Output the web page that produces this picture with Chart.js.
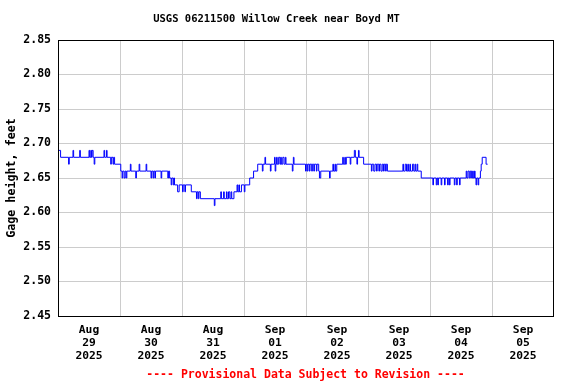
<!DOCTYPE html>
<html>
<head>
<meta charset="utf-8">
<script src="https://cdn.jsdelivr.net/npm/chart.js@4/dist/chart.umd.min.js"></script>
<style>
html,body{margin:0;padding:0;background:#fff;}
#wrap{width:576px;height:384px;}
</style>
</head>
<body>
<div id="wrap"><canvas id="c" width="576" height="384"></canvas></div>
<script>
// Hours since 2025-08-29 00:00 at which the gage height changed, and the new value (feet)
const hours = [0,1.0,4.1,4.35,5.8,6.05,8.4,8.65,12.0,12.25,12.7,12.95,13.2,13.6,14.0,14.25,17.8,18.05,18.75,19.0,20.4,20.65,21.3,21.55,21.9,
24.3,24.8,25.05,25.6,26.0,26.4,26.65,28.0,28.25,30.1,30.35,31.4,31.65,34.1,34.35,36.0,36.25,36.8,37.05,37.5,37.75,39.9,40.15,42.5,42.8,43.2,43.8,44.05,44.6,44.85,45.1,46.3,46.9,
48.2,48.45,49.1,49.35,51.6,53.6,53.85,54.3,54.55,55.1,60.5,60.75,63.0,63.25,64.1,64.35,65.2,65.45,66.0,66.5,67.0,67.25,68.1,69.3,69.55,70.0,70.25,71.0,
72.1,72.35,74.2,75.7,77.3,79.1,79.35,80.1,80.35,82.2,82.45,83.8,84.05,84.3,84.6,84.85,85.4,85.9,86.2,86.45,87.0,87.5,88.0,88.25,90.7,90.95,91.1,91.35,95.8,
96.05,96.5,96.75,97.3,97.55,98.2,98.45,99.0,99.25,100.0,100.25,100.9,101.2,101.7,105.1,105.35,106.4,106.65,107.2,107.45,107.9,110.2,110.45,111.0,111.25,111.6,113.1,113.35,114.7,115.1,115.7,115.95,116.3,116.55,118.3,
121.3,121.55,122.2,122.7,123.3,123.55,124.2,124.45,125.0,125.5,126.0,126.25,126.8,127.05,127.5,133.5,133.75,134.4,134.9,135.4,135.65,136.2,136.45,137.2,137.7,138.2,138.45,139.0,139.25,140.6,
145.1,145.35,146.4,146.65,147.0,147.25,148.3,148.55,149.6,149.85,150.8,151.05,151.5,151.75,153.4,153.65,154.3,154.55,155.4,155.65,158.0,158.25,158.7,159.2,159.6,160.1,160.5,160.75,161.2,161.45,161.8,162.05,162.6,162.85,163.5,163.8,164.2,165.7,166.3];
const feet = [2.69,2.68,2.67,2.68,2.69,2.68,2.69,2.68,2.69,2.68,2.69,2.68,2.69,2.68,2.67,2.68,2.69,2.68,2.69,2.68,2.67,2.68,2.67,2.68,2.67,
2.66,2.65,2.66,2.65,2.66,2.65,2.66,2.67,2.66,2.65,2.66,2.67,2.66,2.67,2.66,2.65,2.66,2.65,2.66,2.65,2.66,2.65,2.66,2.65,2.66,2.65,2.64,2.65,2.64,2.65,2.64,2.63,2.64,
2.63,2.64,2.63,2.64,2.63,2.62,2.63,2.62,2.63,2.62,2.61,2.62,2.63,2.62,2.63,2.62,2.63,2.62,2.63,2.62,2.63,2.62,2.63,2.64,2.63,2.64,2.63,2.64,
2.63,2.64,2.65,2.66,2.67,2.66,2.67,2.68,2.67,2.66,2.67,2.68,2.66,2.67,2.68,2.67,2.68,2.67,2.68,2.67,2.68,2.67,2.68,2.67,2.66,2.67,2.68,2.67,2.66,
2.67,2.66,2.67,2.66,2.67,2.66,2.67,2.66,2.67,2.66,2.67,2.66,2.65,2.66,2.65,2.66,2.67,2.66,2.67,2.66,2.67,2.68,2.67,2.68,2.67,2.68,2.67,2.68,2.69,2.68,2.67,2.68,2.69,2.68,2.67,
2.66,2.67,2.66,2.67,2.66,2.67,2.66,2.67,2.66,2.67,2.66,2.67,2.66,2.67,2.66,2.67,2.66,2.67,2.66,2.67,2.66,2.67,2.66,2.67,2.66,2.67,2.66,2.67,2.66,2.65,
2.64,2.65,2.64,2.65,2.64,2.65,2.64,2.65,2.64,2.65,2.64,2.65,2.64,2.65,2.64,2.65,2.64,2.65,2.64,2.65,2.66,2.65,2.66,2.65,2.66,2.65,2.66,2.65,2.66,2.65,2.64,2.65,2.64,2.65,2.66,2.67,2.68,2.67,2.67];

// Tick labels (one per day, placed at noon)
const tickMonths = ['Aug','Aug','Aug','Sep','Sep','Sep','Sep','Sep'];
const tickDays = ['29','30','31','01','02','03','04','05'];
const tickYear = '2025';
const yTicks = [2.45,2.50,2.55,2.60,2.65,2.70,2.75,2.80,2.85];

const chartTitle = 'USGS 06211500 Willow Creek near Boyd MT';
const footnote = '---- Provisional Data Subject to Revision ----';
const yTitle = 'Gage height, feet';

const points = hours.map((h, i) => ({x: h, y: feet[i]}));
const MONO = '"DejaVu Sans Mono", "Liberation Mono", monospace';

const frame = {
  id: 'frame',
  afterDatasetsDraw(chart) {
    const a = chart.chartArea, ctx = chart.ctx;
    ctx.save();
    ctx.strokeStyle = '#000';
    ctx.lineWidth = 1;
    ctx.strokeRect(Math.round(a.left) + 0.5, Math.round(a.top) + 0.5, Math.round(a.right - a.left), Math.round(a.bottom - a.top));
    ctx.restore();
  }
};

new Chart(document.getElementById('c'), {
  type: 'line',
  data: {
    datasets: [{
      data: points,
      borderColor: '#0000ff',
      borderWidth: 1,
      pointRadius: 0,
      stepped: 'before',
      fill: false
    }]
  },
  plugins: [frame],
  options: {
    responsive: false,
    animation: false,
    devicePixelRatio: 1,
    layout: {padding: {left: 0, right: 23, top: 0, bottom: 0}},
    plugins: {
      legend: {display: false},
      tooltip: {enabled: false},
      title: {
        display: true,
        text: chartTitle,
        color: '#000',
        font: {family: MONO, size: 10.5, weight: 'bold'},
        padding: {top: 13, bottom: 14.4}
      },
      subtitle: {
        display: true,
        position: 'bottom',
        fullSize: false,
        text: footnote,
        color: '#ff0000',
        font: {family: MONO, size: 11.5, weight: 'bold'},
        padding: {top: 2, bottom: 2}
      }
    },
    scales: {
      x: {
        type: 'linear',
        min: 0,
        max: 191.6,
        afterBuildTicks(scale) {
          const t = [];
          for (let v = 0; v <= 180; v += 12) t.push({value: v});
          scale.ticks = t;
        },
        afterFit(scale) { scale.height = 50.2; },
        grid: {
          drawTicks: false,
          color: (ctx) => (ctx.tick && ctx.tick.value % 24 === 0 && ctx.tick.value > 0) ? '#cccccc' : 'rgba(0,0,0,0)',
          lineWidth: 1
        },
        border: {color: '#000', width: 1},
        ticks: {
          autoSkip: false,
          maxRotation: 0,
          minRotation: 0,
          padding: 8,
          color: '#000',
          font: {family: MONO, size: 11.3, weight: 'bold', lineHeight: 1.12},
          callback: (v) => {
            if (v % 24 !== 12) return '';
            const d = (v - 12) / 24;
            return [tickMonths[d], tickDays[d], tickYear];
          }
        }
      },
      y: {
        min: 2.45,
        max: 2.85,
        afterBuildTicks(scale) { scale.ticks = yTicks.map(v => ({value: v})); },
        afterFit(scale) { scale.width = 58; },
        grid: {drawTicks: false, color: '#cccccc', lineWidth: 1},
        border: {color: '#000', width: 1},
        title: {
          display: true,
          text: yTitle,
          color: '#000',
          font: {family: MONO, size: 11.7, weight: 'bold'},
          padding: {top: 5, bottom: 0}
        },
        ticks: {
          padding: 7,
          color: '#000',
          font: {family: MONO, size: 11.5, weight: 'bold'},
          callback: (v) => Number(v).toFixed(2)
        }
      }
    }
  }
});
</script>
</body>
</html>
